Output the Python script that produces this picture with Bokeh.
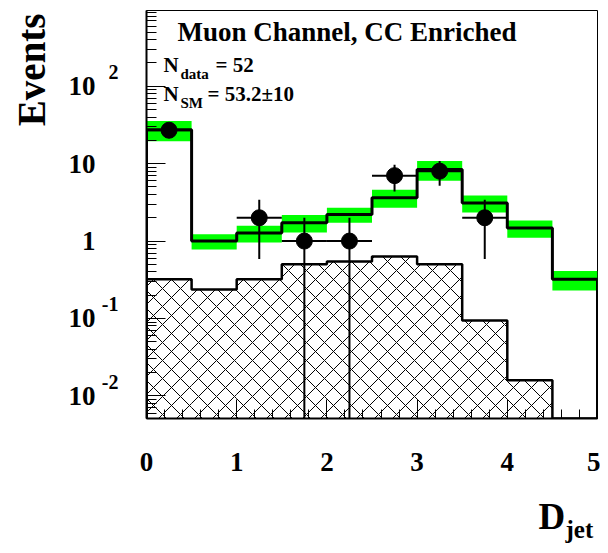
import math
from bokeh.plotting import figure
from bokeh.models import (Label, Range1d, SingleIntervalTicker, CustomJSTickFormatter,
                          LogTicker, LogAxis, LogScale)
from bokeh.embed import file_html
from bokeh.resources import INLINE

# ---------------- data ----------------
bin_edges = [0.0, 0.5, 1.0, 1.5, 2.0, 2.5, 3.0, 3.5, 4.0, 4.5, 5.0]
data_counts = [27, 0, 2, 1, 1, 7, 8, 2, 0, 0]
sm_total = [27.5, 1.0, 1.27, 1.73, 2.21, 3.64, 8.43, 3.1, 1.47, 0.32]
sm_error = [8.0, 0.22, 0.31, 0.44, 0.48, 0.95, 2.4, 0.77, 0.37, 0.09]
background = [0.32, 0.237, 0.32, 0.50, 0.546, 0.634, 0.50, 0.094, 0.0159, 0.0]
x_tick_values = [0, 1, 2, 3, 4, 5]
y_tick_powers = [-2, -1, 0, 1, 2]
y_tick_base = ["10", "10", "1", "10", "10"]
y_tick_exp = ["-2", "-1", "", "", "2"]
title_text = "Muon Channel, CC Enriched"
ndata_text = "= 52"
nsm_text = "= 53.2\u00b110"

FONT = "Liberation Serif"
W, H = 600, 545
Y_START, Y_END = 0.0051, 952.0
X_START, X_END = 0.0, 5.0

# pixel frame geometry (used only to place annotation texts)
FL, FR, FT, FB = 146.0, 597.0, 10.0, 418.0
PX_PER_DECADE = (FB - FT) / (math.log10(Y_END) - math.log10(Y_START))
BASELINE_FIX = 0.37  # Label alphabetic baseline correction (in em)


def dx(px):
    return X_START + (px - FL) / (FR - FL) * (X_END - X_START)


def dy(py):
    l0 = math.log10(Y_START)
    return 10 ** (l0 + (FB - py) / PX_PER_DECADE)


p = figure(width=W, height=H, output_backend="svg", toolbar_location=None,
           y_axis_type="log", x_range=Range1d(X_START, X_END),
           y_range=Range1d(Y_START, Y_END),
           min_border_left=int(FL), min_border_right=int(W - FR),
           min_border_top=int(FT), min_border_bottom=int(H - FB))
p.title.visible = False
p.grid.visible = False
p.outline_line_color = "black"
p.outline_line_width = 1
p.background_fill_color = "white"
p.border_fill_color = "white"

# x axis
xa = p.xaxis[0]
xa.ticker = SingleIntervalTicker(interval=1, num_minor_ticks=5)
xa.major_label_text_font = FONT
xa.major_label_text_font_style = "bold"
xa.major_label_text_font_size = "27px"
xa.major_label_text_color = "black"
xa.major_tick_in = 19
xa.major_tick_out = 0
xa.minor_tick_in = 9
xa.minor_tick_out = 0
xa.major_label_standoff = 34
xa.axis_line_width = 2
xa.major_tick_line_color = "black"
xa.minor_tick_line_color = "black"

# y axis: ticks only
ya = p.yaxis[0]
ya.ticker = LogTicker(num_minor_ticks=10)
ya.formatter = CustomJSTickFormatter(code="return ''")
ya.major_label_standoff = 0
ya.major_tick_in = 19
ya.major_tick_out = 0
ya.minor_tick_in = 10
ya.minor_tick_out = 0
ya.axis_line_width = 2
ya.major_tick_line_color = "black"
ya.minor_tick_line_color = "black"

# exponent labels: a raised copy of the log range
EXP_RAISE = 14.0
f = 10 ** (-EXP_RAISE / PX_PER_DECADE)
p.extra_y_ranges = {"exp": Range1d(Y_START * f, Y_END * f)}
p.extra_y_scales = {"exp": LogScale()}
exp_map = {str(k): e for k, e in zip(y_tick_powers, y_tick_exp)}
base_map = {str(k): b for k, b in zip(y_tick_powers, y_tick_base)}
JS = "const k = String(Math.round(Math.log10(tick))); return (k in m) ? m[k] : '';"


def label_axis(range_name, mapping, size, standoff):
    ax = LogAxis(y_range_name=range_name, ticker=LogTicker(num_minor_ticks=10),
                 formatter=CustomJSTickFormatter(args=dict(m=mapping), code=JS))
    ax.major_label_text_font = FONT
    ax.major_label_text_font_style = "bold"
    ax.major_label_text_font_size = f"{size}px"
    ax.major_label_text_color = "black"
    ax.major_label_standoff = standoff
    ax.major_tick_in = 0
    ax.major_tick_out = 0
    ax.minor_tick_in = 0
    ax.minor_tick_out = 0
    ax.axis_line_color = None
    ax.major_tick_line_color = None
    ax.minor_tick_line_color = None
    p.add_layout(ax, "left")
    return ax


label_axis("exp", exp_map, 20, 28)
label_axis("default", base_map, 27, 3)

lefts = bin_edges[:-1]
rights = bin_edges[1:]
centers = [(a + b) / 2 for a, b in zip(lefts, rights)]

# SM uncertainty band
p.quad(left=lefts, right=rights,
       bottom=[m - e for m, e in zip(sm_total, sm_error)],
       top=[m + e for m, e in zip(sm_total, sm_error)],
       fill_color="#00ff00", line_color=None)

# hatched background
bkg_top = [max(b, Y_START) for b in background]
p.quad(left=lefts, right=rights, bottom=[Y_START] * len(lefts), top=bkg_top,
       fill_color=None, line_color=None, hatch_pattern="x",
       hatch_color="black", hatch_scale=18, hatch_weight=1)


def step_xy(vals):
    xs, ys = [bin_edges[0]], [Y_START]
    for a, b, v in zip(lefts, rights, vals):
        v = max(v, Y_START)
        xs += [a, b]
        ys += [v, v]
    xs.append(bin_edges[-1])
    ys.append(Y_START)
    return xs, ys


bx, by = step_xy(background)
p.line(bx, by, line_color="black", line_width=2.5)
mx, my = step_xy(sm_total)
p.line(mx, my, line_color="black", line_width=3)

# data points with errors
dxs = [c for c, n in zip(centers, data_counts) if n > 0]
dys = [n for n in data_counts if n > 0]
dl = [a for a, n in zip(lefts, data_counts) if n > 0]
dr = [b for b, n in zip(rights, data_counts) if n > 0]
dlo = [max(n - math.sqrt(n), Y_START) for n in dys]
dhi = [n + math.sqrt(n) for n in dys]
p.segment(x0=dl, y0=dys, x1=dr, y1=dys, line_color="black", line_width=2)
p.segment(x0=dxs, y0=dlo, x1=dxs, y1=dhi, line_color="black", line_width=2)
p.scatter(dxs, dys, size=16, color="black")


def lab(px, py, text, size, align="left", vertical=False, place=None):
    if vertical:
        px -= BASELINE_FIX * size
    else:
        py -= BASELINE_FIX * size
    l = Label(x=dx(px), y=dy(py), text=text, text_font=FONT,
              text_font_style="bold", text_font_size=f"{size}px",
              text_color="black", text_align=align,
              text_baseline="alphabetic",
              angle=math.pi / 2 if vertical else 0.0)
    if place is None:
        p.add_layout(l)
    else:
        p.add_layout(l, place)


# texts
lab(177, 41, title_text, 27)
lab(163, 72, "N", 21)
lab(180, 79, "data", 15)
lab(215, 72, ndata_text, 21)
lab(163, 101, "N", 21)
lab(180, 108, "SM", 15)
lab(207, 101, nsm_text, 21)
lab(45, 13, "Events", 39, align="right", vertical=True, place="left")
lab(538, 530, "D", 37, place="below")
lab(565, 538, "jet", 25, place="below")

open("out.html", "w").write(file_html(p, INLINE))
